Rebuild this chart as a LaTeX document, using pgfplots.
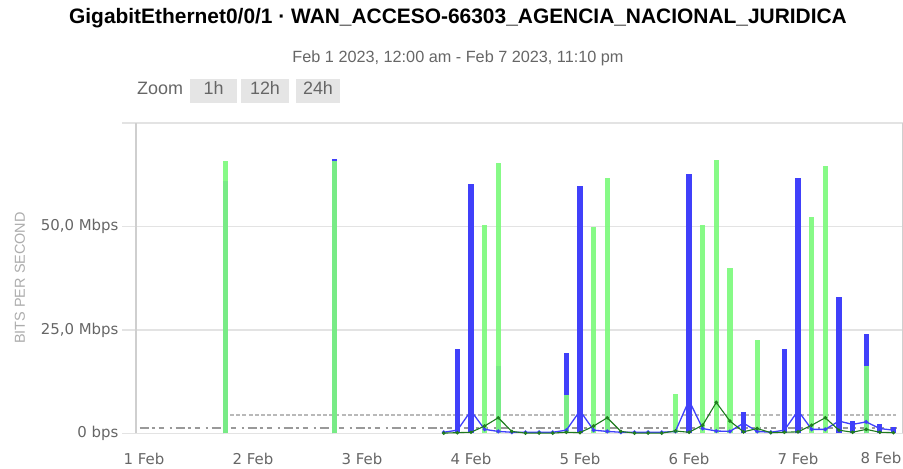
\documentclass[border=0pt]{standalone}
\usepackage{fontspec}
\setmainfont{Liberation Sans}
\newfontfamily\dejavu{DejaVu Sans}
\usepackage{pgfplots}
\pgfplotsset{compat=1.18}
\definecolor{bblue}{HTML}{4040FA}
\definecolor{bgreen}{HTML}{7DFA7D}
\definecolor{dgreen}{HTML}{1E7A1E}
\definecolor{lab}{HTML}{666666}
\definecolor{gridc}{HTML}{E3E3E3}
\begin{document}
\begin{tikzpicture}[x=1bp,y=1bp]
\path[use as bounding box] (0,0) rectangle (903,469);
\node[font=\fontsize{21}{24}\selectfont\bfseries, text=black] at (458,451) {GigabitEthernet0/0/1 · WAN\_ACCESO-66303\_AGENCIA\_NACIONAL\_JURIDICA};
\node[font=\fontsize{16.3}{18}\selectfont, text=lab] at (458,411) {Feb 1 2023, 12:00 am - Feb 7 2023, 11:10 pm};
\fill[gray!20] (190,366) rectangle (237,390);
\fill[gray!20] (241,366) rectangle (289,390);
\fill[gray!20] (296,366) rectangle (340,390);
\node[font=\fontsize{18}{20}\selectfont, text=lab, anchor=west, inner sep=0] at (137,381) {Zoom};
\node[font=\fontsize{18}{20}\selectfont, text=lab, inner sep=0] at (213.5,381) {1h};
\node[font=\fontsize{18}{20}\selectfont, text=lab, inner sep=0] at (265,381) {12h};
\node[font=\fontsize{18}{20}\selectfont, text=lab, inner sep=0] at (318,381) {24h};
\node[font=\fontsize{14.5}{16}\selectfont, text=gray!65, rotate=90] at (20,191) {BITS PER SECOND};
\begin{axis}[
  at={(136bp,35.5bp)}, anchor=south west,
  width=767bp, height=310.5bp, scale only axis,
  xmin=-0.073, xmax=6.963, ymin=0, ymax=75,
  xtick={0,1,2,3,4,5,6},
  xticklabels={1 Feb,2 Feb,3 Feb,4 Feb,5 Feb,6 Feb,7 Feb},
  ytick={0,25,50,75},
  yticklabels={0 bps,{25,0 Mbps},{50,0 Mbps},{}},
  ymajorgrids, major grid style={gridc, line width=1.2bp},
  separate axis lines,
  x axis line style={draw=none},
  y axis line style={draw=gridc!80!gray, line width=1.2bp},
  x tick style={draw=none},
  y tick style={draw=gridc, line width=1.2bp},
  major tick length=14bp, tick align=outside,
  xticklabel style={font=\dejavu\fontsize{15}{17}\selectfont, text=lab, yshift=-2bp},
  yticklabel style={font=\dejavu\fontsize{15}{17}\selectfont, text=lab},
  clip=false,
]
% reference lines
\addplot[gray!55, line width=2.6bp, dash pattern=on 4bp off 2.2bp] coordinates {(0.79,4.5) (6.9,4.5)};
\addplot[gray!80, line width=2.2bp, dash pattern=on 9bp off 3bp on 3bp off 4bp on 5bp off 6bp on 2bp off 4bp] coordinates {(-0.04,1.3) (6.9,1.3)};
% blue max bars
\addplot[ycomb, bblue, line width=5.2bp] coordinates {
(0.75,61.1) (1.75,66.4) (2.875,20.3) (3.0,60.3) (3.25,16.2) (3.875,19.5) (4.0,59.7) (4.25,15.4)
(5.0,62.6) (5.5,5.3) (5.875,20.3) (6.0,61.8) (6.375,33.0) (6.5,3.0) (6.625,24.1) (6.75,2.2) (6.875,1.5)};
% green max bars
\addplot[ycomb, bgreen, line width=5.2bp, opacity=0.92] coordinates {
(0.75,65.8) (1.75,65.8) (3.125,50.4) (3.25,65.4) (3.875,9.3) (4.125,49.8) (4.25,61.8)
(4.875,9.6) (5.125,50.4) (5.25,66.1) (5.375,39.9) (5.625,22.7) (6.125,52.2) (6.25,64.6) (6.625,16.4)};
% blue average
\addplot[bblue, line width=1.3bp, mark=*, mark size=1.3bp] coordinates {
(2.75,0.3) (2.875,0.8) (3.0,5.5) (3.125,1.0) (3.25,0.5) (3.375,0.3) (3.5,0.3) (3.625,0.3) (3.75,0.3)
(3.875,0.8) (4.0,5.5) (4.125,0.8) (4.25,0.5) (4.375,0.3) (4.5,0.3) (4.625,0.3) (4.75,0.3)
(4.875,0.5) (5.0,8.0) (5.125,1.2) (5.25,0.6) (5.375,0.5) (5.5,2.5) (5.625,0.5) (5.75,0.3)
(5.875,0.8) (6.0,5.5) (6.125,1.0) (6.25,1.0) (6.375,3.0) (6.5,2.2) (6.625,2.8) (6.75,1.2) (6.875,0.8)};
% green average
\addplot[dgreen, line width=1.1bp, mark=*, mark size=1.2bp, mark options={fill=bgreen!70!dgreen}] coordinates {
(2.75,0.1) (2.875,0.2) (3.0,0.3) (3.125,1.8) (3.25,3.8) (3.375,0.5) (3.5,0.1) (3.625,0.1) (3.75,0.1)
(3.875,0.3) (4.0,0.2) (4.125,1.8) (4.25,3.8) (4.375,0.5) (4.5,0.1) (4.625,0.1) (4.75,0.1)
(4.875,0.6) (5.0,0.3) (5.125,2.0) (5.25,7.5) (5.375,3.0) (5.5,0.4) (5.625,1.2) (5.75,0.2)
(5.875,0.3) (6.0,0.4) (6.125,2.0) (6.25,3.8) (6.375,0.8) (6.5,0.3) (6.625,1.0) (6.75,0.3) (6.875,0.2)};
\end{axis}
\node[font=\dejavu\fontsize{15}{17}\selectfont, text=lab, anchor=east, inner sep=0] at (901.5,11) {8 Feb};
\end{tikzpicture}
\end{document}
